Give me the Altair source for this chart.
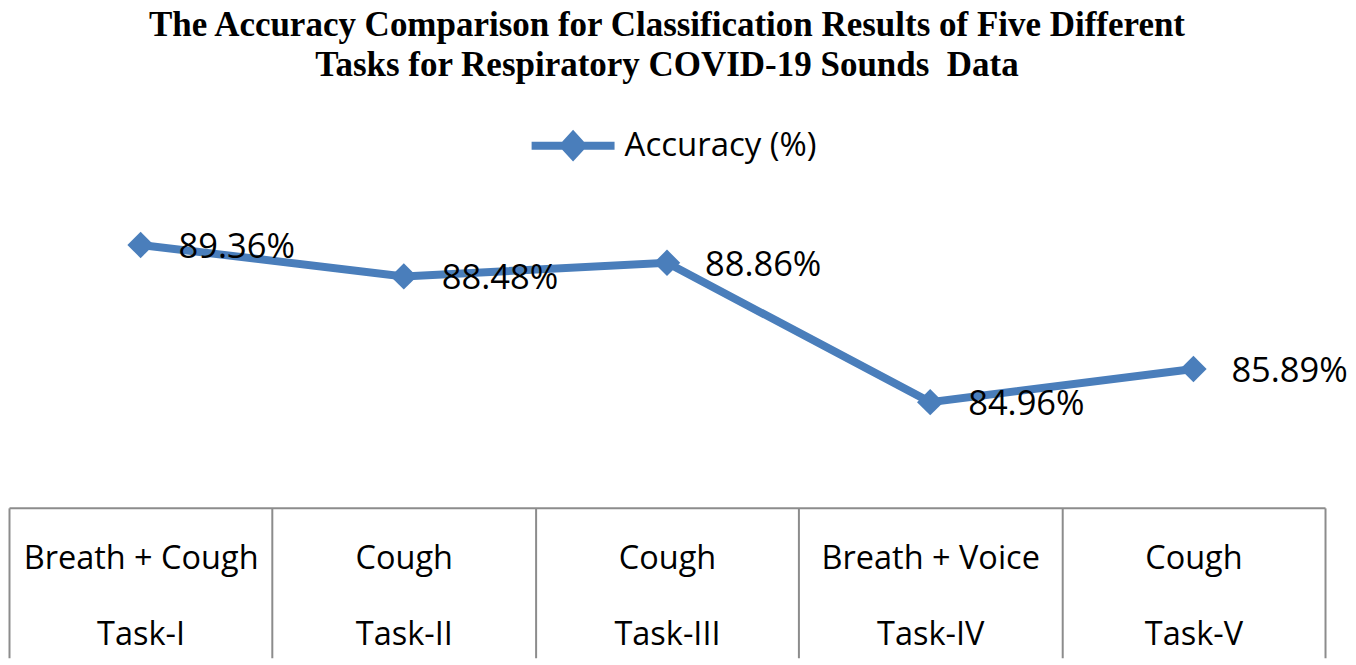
import altair as alt
import pandas as pd

sounds = ["Breath + Cough", "Cough", "Cough", "Breath + Voice", "Cough"]
tasks = ["Task-I", "Task-II", "Task-III", "Task-IV", "Task-V"]
accuracy = [89.36, 88.48, 88.86, 84.96, 85.89]
series_name = "Accuracy (%)"

cats = [s + "|" + t for s, t in zip(sounds, tasks)]
df = pd.DataFrame({
    "cat": cats,
    "acc": accuracy,
    "lab": [f"{v:.2f}%" for v in accuracy],
    "series": [series_name] * len(cats),
})

BLUE = "#4A7EBB"
FONT = "Open Sans"

x = alt.X(
    "cat:N",
    sort=cats,
    title=None,
    scale=alt.Scale(type="band", paddingInner=0, paddingOuter=0),
    axis=alt.Axis(
        tickBand="extent",
        tickSize=150,
        tickWidth=2,
        tickColor="#8c8c8c",
        domainColor="#8c8c8c",
        domainWidth=2,
        labelExpr="split(datum.label, '|')",
        labelFont=FONT,
        labelFontSize=32.5,
        labelColor="black",
        labelLineHeight=76,
        labelPadding=-115,
        labelAngle=0,
        labelBaseline="top",
        labelLimit=600,
        grid=False,
    ),
)
y = alt.Y("acc:Q", scale=alt.Scale(domain=[82, 93.385], nice=False, zero=False), axis=None)

legend_path = "M-1,0L1,0M-0.22,0L0,-0.24L0.22,0L0,0.24Z"

line = alt.Chart(df).mark_line(strokeWidth=8).encode(
    x=x, y=y,
    color=alt.Color(
        "series:N",
        scale=alt.Scale(domain=[series_name], range=[BLUE]),
        legend=alt.Legend(
            title=None,
            orient="none",
            legendX=519,
            legendY=-1,
            symbolType=legend_path,
            symbolSize=6889,
            symbolStrokeWidth=8,
            symbolStrokeColor=BLUE,
            symbolFillColor=BLUE,
            labelFont=FONT,
            labelFontSize=33,
            labelColor="black",
            labelOffset=6,
            labelLimit=600,
            padding=0,
        ),
    ),
)
points = alt.Chart(df).mark_point(shape="diamond", filled=True, size=700, opacity=1, color=BLUE).encode(
    x=x, y=y
)
labels = alt.Chart(df).mark_text(
    align="left", baseline="middle", dx=38, dy=3, font=FONT, fontSize=34.5, color="black"
).encode(x=x, y=y, text="lab:N")

chart = alt.layer(line, points, labels).properties(
    width=1317,
    height=407,
    padding={"left": 0, "top": 0, "right": 0, "bottom": 0},
    background="white",
    title=alt.TitleParams(
        text=[
            "The Accuracy Comparison for Classification Results of Five Different",
            "Tasks for Respiratory COVID-19 Sounds\u00a0 Data",
        ],
        font="Liberation Serif",
        fontSize=35,
        fontWeight="bold",
        color="black",
        lineHeight=40,
        anchor="middle",
        offset=17,
    ),
).configure_view(strokeWidth=0)

chart.save("out.html", embed_options={"renderer": "svg", "actions": False})
